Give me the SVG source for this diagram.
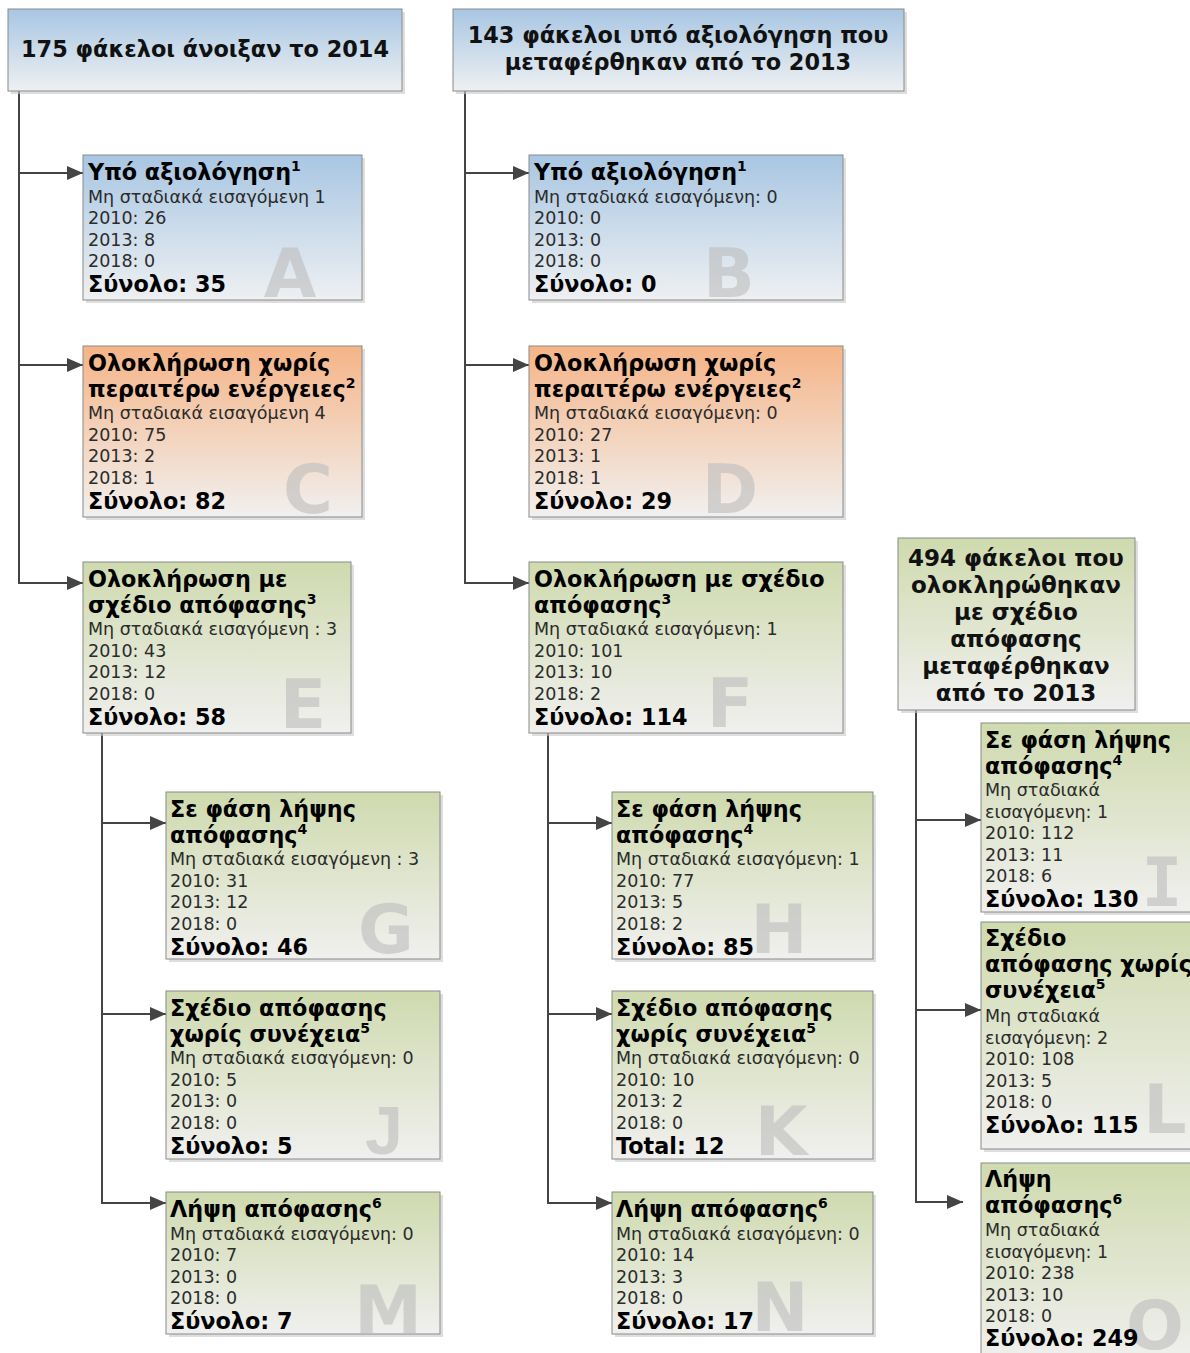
<svg xmlns="http://www.w3.org/2000/svg" width="1190" height="1353" viewBox="0 0 1190 1353">
<style>
.bx{stroke:#8a8a8a;stroke-width:1}
.sh{fill:#c8c8c8;opacity:.6}
.t{font-family:"DejaVu Sans",Verdana,sans-serif;font-weight:bold;font-size:22.3px;fill:#000}
.h{font-family:"DejaVu Sans",Verdana,sans-serif;font-weight:bold;font-size:22.4px;fill:#111;text-anchor:middle}
.h3{font-size:23px}
.b{font-family:"DejaVu Sans",Verdana,sans-serif;font-size:17.5px;fill:#2b2b2b}
.w{font-family:"DejaVu Sans",Verdana,sans-serif;font-weight:bold;font-size:68px;fill:#bdbdbd;opacity:.6;text-anchor:middle}
.wm{font-family:"DejaVu Sans Mono",monospace}
.wl{font-family:"Liberation Sans",Arial,sans-serif}
.sup{font-size:14px}
.cn{fill:none;stroke:#444;stroke-width:2}
</style>
<defs>
<linearGradient id="gB" x1="0" y1="0" x2="0" y2="1"><stop offset="0" stop-color="#a8c6e3"/><stop offset="1" stop-color="#eef0f2"/></linearGradient>
<linearGradient id="gO" x1="0" y1="0" x2="0" y2="1"><stop offset="0" stop-color="#f5b487"/><stop offset="1" stop-color="#f1f0ef"/></linearGradient>
<linearGradient id="gG" x1="0" y1="0" x2="0" y2="1"><stop offset="0" stop-color="#cfdaae"/><stop offset="1" stop-color="#f0f0ef"/></linearGradient>
<marker id="ar" markerUnits="userSpaceOnUse" markerWidth="16" markerHeight="14" refX="16" refY="7" orient="auto"><path d="M0,0 L16,7 L0,14 z" fill="#444"/></marker>
</defs>

<g id="connectors">
<path class="cn" d="M19,91 V583 H83" marker-end="url(#ar)"/>
<path class="cn" d="M19,173 H83" marker-end="url(#ar)"/>
<path class="cn" d="M19,365 H83" marker-end="url(#ar)"/>
<path class="cn" d="M465,91 V583 H529" marker-end="url(#ar)"/>
<path class="cn" d="M465,173 H529" marker-end="url(#ar)"/>
<path class="cn" d="M465,365 H529" marker-end="url(#ar)"/>
<path class="cn" d="M102,733 V1203 H166" marker-end="url(#ar)"/>
<path class="cn" d="M102,823 H166" marker-end="url(#ar)"/>
<path class="cn" d="M102,1014 H166" marker-end="url(#ar)"/>
<path class="cn" d="M548,733 V1203 H612" marker-end="url(#ar)"/>
<path class="cn" d="M548,823 H612" marker-end="url(#ar)"/>
<path class="cn" d="M548,1014 H612" marker-end="url(#ar)"/>
<path class="cn" d="M916,710 V1202 H963" marker-end="url(#ar)"/>
<path class="cn" d="M916,820 H981" marker-end="url(#ar)"/>
<path class="cn" d="M916,1010 H981" marker-end="url(#ar)"/>
</g>

<g id="header1">
<rect class="sh" x="11" y="12" width="394" height="82"/>
<rect class="bx" x="8" y="9" width="394" height="82" fill="url(#gB)"/>
<text class="h" x="205" y="57">175 φάκελοι άνοιξαν το 2014</text>
</g>

<g id="header2">
<rect class="sh" x="456" y="12" width="451" height="82"/>
<rect class="bx" x="453" y="9" width="451" height="82" fill="url(#gB)"/>
<text class="h" x="678" y="43">143 φάκελοι υπό αξιολόγηση που</text>
<text class="h" x="678" y="70">μεταφέρθηκαν από το 2013</text>
</g>

<g id="header3">
<rect class="sh" x="901" y="541" width="237" height="172"/>
<rect class="bx" x="898" y="538" width="237" height="172" fill="url(#gG)"/>
<text class="h h3" x="1016" y="566">494 φάκελοι που</text>
<text class="h h3" x="1016" y="593">ολοκληρώθηκαν</text>
<text class="h h3" x="1016" y="620">με σχέδιο</text>
<text class="h h3" x="1016" y="647">απόφασης</text>
<text class="h h3" x="1016" y="674">μεταφέρθηκαν</text>
<text class="h h3" x="1016" y="701">από το 2013</text>
</g>

<g id="nodeA">
<rect class="sh" x="86" y="158" width="279" height="145"/>
<rect class="bx" x="83" y="155" width="279" height="145" fill="url(#gB)"/>
<text class="w" x="290" y="297">A</text>
<text class="t" x="88" y="180">Υπό αξιολόγηση<tspan class="sup" dy="-9">1</tspan></text>
<text class="b" x="88" y="202.5">Μη σταδιακά εισαγόμενη 1</text>
<text class="b" x="88" y="224">2010: 26</text>
<text class="b" x="88" y="245.5">2013: 8</text>
<text class="b" x="88" y="267">2018: 0</text>
<text class="t" x="88" y="292">Σύνολο: 35</text>
</g>

<g id="nodeB">
<rect class="sh" x="532" y="158" width="314" height="145"/>
<rect class="bx" x="529" y="155" width="314" height="145" fill="url(#gB)"/>
<text class="w" x="729" y="297">B</text>
<text class="t" x="534" y="180">Υπό αξιολόγηση<tspan class="sup" dy="-9">1</tspan></text>
<text class="b" x="534" y="202.5">Μη σταδιακά εισαγόμενη: 0</text>
<text class="b" x="534" y="224">2010: 0</text>
<text class="b" x="534" y="245.5">2013: 0</text>
<text class="b" x="534" y="267">2018: 0</text>
<text class="t" x="534" y="292">Σύνολο: 0</text>
</g>

<g id="nodeC">
<rect class="sh" x="86" y="349" width="279" height="171"/>
<rect class="bx" x="83" y="346" width="279" height="171" fill="url(#gO)"/>
<text class="w" x="308" y="513">C</text>
<text class="t" x="88" y="371">Ολοκλήρωση χωρίς</text>
<text class="t" x="88" y="396.5">περαιτέρω ενέργειες<tspan class="sup" dy="-9">2</tspan></text>
<text class="b" x="88" y="419">Μη σταδιακά εισαγόμενη 4</text>
<text class="b" x="88" y="440.5">2010: 75</text>
<text class="b" x="88" y="462">2013: 2</text>
<text class="b" x="88" y="483.5">2018: 1</text>
<text class="t" x="88" y="508.5">Σύνολο: 82</text>
</g>

<g id="nodeD">
<rect class="sh" x="532" y="349" width="314" height="171"/>
<rect class="bx" x="529" y="346" width="314" height="171" fill="url(#gO)"/>
<text class="w" x="730" y="513">D</text>
<text class="t" x="534" y="371">Ολοκλήρωση χωρίς</text>
<text class="t" x="534" y="396.5">περαιτέρω ενέργειες<tspan class="sup" dy="-9">2</tspan></text>
<text class="b" x="534" y="419">Μη σταδιακά εισαγόμενη: 0</text>
<text class="b" x="534" y="440.5">2010: 27</text>
<text class="b" x="534" y="462">2013: 1</text>
<text class="b" x="534" y="483.5">2018: 1</text>
<text class="t" x="534" y="508.5">Σύνολο: 29</text>
</g>

<g id="nodeE">
<rect class="sh" x="86" y="565" width="268" height="171"/>
<rect class="bx" x="83" y="562" width="268" height="171" fill="url(#gG)"/>
<text class="w" x="303" y="728">E</text>
<text class="t" x="88" y="587">Ολοκλήρωση με</text>
<text class="t" x="88" y="612.5">σχέδιο απόφασης<tspan class="sup" dy="-9">3</tspan></text>
<text class="b" x="88" y="635">Μη σταδιακά εισαγόμενη : 3</text>
<text class="b" x="88" y="656.5">2010: 43</text>
<text class="b" x="88" y="678">2013: 12</text>
<text class="b" x="88" y="699.5">2018: 0</text>
<text class="t" x="88" y="724.5">Σύνολο: 58</text>
</g>

<g id="nodeF">
<rect class="sh" x="532" y="565" width="314" height="171"/>
<rect class="bx" x="529" y="562" width="314" height="171" fill="url(#gG)"/>
<text class="w" x="730" y="727">F</text>
<text class="t" x="534" y="587">Ολοκλήρωση με σχέδιο</text>
<text class="t" x="534" y="612.5">απόφασης<tspan class="sup" dy="-9">3</tspan></text>
<text class="b" x="534" y="635">Μη σταδιακά εισαγόμενη: 1</text>
<text class="b" x="534" y="656.5">2010: 101</text>
<text class="b" x="534" y="678">2013: 10</text>
<text class="b" x="534" y="699.5">2018: 2</text>
<text class="t" x="534" y="724.5">Σύνολο: 114</text>
</g>

<g id="nodeG">
<rect class="sh" x="169" y="795" width="274" height="167"/>
<rect class="bx" x="166" y="792" width="274" height="167" fill="url(#gG)"/>
<text class="w" x="386" y="953">G</text>
<text class="t" x="170" y="817">Σε φάση λήψης</text>
<text class="t" x="170" y="842.5">απόφασης<tspan class="sup" dy="-9">4</tspan></text>
<text class="b" x="170" y="865">Μη σταδιακά εισαγόμενη : 3</text>
<text class="b" x="170" y="886.5">2010: 31</text>
<text class="b" x="170" y="908">2013: 12</text>
<text class="b" x="170" y="929.5">2018: 0</text>
<text class="t" x="170" y="954.5">Σύνολο: 46</text>
</g>

<g id="nodeH">
<rect class="sh" x="615" y="795" width="261" height="167"/>
<rect class="bx" x="612" y="792" width="261" height="167" fill="url(#gG)"/>
<text class="w" x="779" y="953">H</text>
<text class="t" x="616" y="817">Σε φάση λήψης</text>
<text class="t" x="616" y="842.5">απόφασης<tspan class="sup" dy="-9">4</tspan></text>
<text class="b" x="616" y="865">Μη σταδιακά εισαγόμενη: 1</text>
<text class="b" x="616" y="886.5">2010: 77</text>
<text class="b" x="616" y="908">2013: 5</text>
<text class="b" x="616" y="929.5">2018: 2</text>
<text class="t" x="616" y="954.5">Σύνολο: 85</text>
</g>

<g id="nodeI">
<rect class="sh" x="984" y="726" width="220" height="189"/>
<rect class="bx" x="981" y="723" width="220" height="189" fill="url(#gG)"/>
<text class="w wm" x="1162" y="906">I</text>
<text class="t" x="985" y="748">Σε φάση λήψης</text>
<text class="t" x="985" y="773.5">απόφασης<tspan class="sup" dy="-9">4</tspan></text>
<text class="b" x="985" y="796">Μη σταδιακά</text>
<text class="b" x="985" y="817.5">εισαγόμενη: 1</text>
<text class="b" x="985" y="839">2010: 112</text>
<text class="b" x="985" y="860.5">2013: 11</text>
<text class="b" x="985" y="882">2018: 6</text>
<text class="t" x="985" y="907">Σύνολο: 130</text>
</g>

<g id="nodeJ">
<rect class="sh" x="169" y="994" width="274" height="168"/>
<rect class="bx" x="166" y="991" width="274" height="168" fill="url(#gG)"/>
<text class="w wl" x="384" y="1154">J</text>
<text class="t" x="170" y="1016">Σχέδιο απόφασης</text>
<text class="t" x="170" y="1041.5">χωρίς συνέχεια<tspan class="sup" dy="-9">5</tspan></text>
<text class="b" x="170" y="1064">Μη σταδιακά εισαγόμενη: 0</text>
<text class="b" x="170" y="1085.5">2010: 5</text>
<text class="b" x="170" y="1107">2013: 0</text>
<text class="b" x="170" y="1128.5">2018: 0</text>
<text class="t" x="170" y="1153.5">Σύνολο: 5</text>
</g>

<g id="nodeK">
<rect class="sh" x="615" y="994" width="261" height="168"/>
<rect class="bx" x="612" y="991" width="261" height="168" fill="url(#gG)"/>
<text class="w" x="781" y="1155">K</text>
<text class="t" x="616" y="1016">Σχέδιο απόφασης</text>
<text class="t" x="616" y="1041.5">χωρίς συνέχεια<tspan class="sup" dy="-9">5</tspan></text>
<text class="b" x="616" y="1064">Μη σταδιακά εισαγόμενη: 0</text>
<text class="b" x="616" y="1085.5">2010: 10</text>
<text class="b" x="616" y="1107">2013: 2</text>
<text class="b" x="616" y="1128.5">2018: 0</text>
<text class="t" x="616" y="1153.5">Total: 12</text>
</g>

<g id="nodeL">
<rect class="sh" x="984" y="925" width="220" height="227"/>
<rect class="bx" x="981" y="922" width="220" height="227" fill="url(#gG)"/>
<text class="w" x="1165" y="1133">L</text>
<text class="t" x="985" y="946">Σχέδιο</text>
<text class="t" x="985" y="972">απόφασης χωρίς</text>
<text class="t" x="985" y="998">συνέχεια<tspan class="sup" dy="-9">5</tspan></text>
<text class="b" x="985" y="1022">Μη σταδιακά</text>
<text class="b" x="985" y="1043.5">εισαγόμενη: 2</text>
<text class="b" x="985" y="1065">2010: 108</text>
<text class="b" x="985" y="1086.5">2013: 5</text>
<text class="b" x="985" y="1108">2018: 0</text>
<text class="t" x="985" y="1132.5">Σύνολο: 115</text>
</g>

<g id="nodeM">
<rect class="sh" x="169" y="1195" width="274" height="142"/>
<rect class="bx" x="166" y="1192" width="274" height="142" fill="url(#gG)"/>
<text class="w" x="388" y="1334">M</text>
<text class="t" x="170" y="1217">Λήψη απόφασης<tspan class="sup" dy="-9">6</tspan></text>
<text class="b" x="170" y="1239.5">Μη σταδιακά εισαγόμενη: 0</text>
<text class="b" x="170" y="1261">2010: 7</text>
<text class="b" x="170" y="1282.5">2013: 0</text>
<text class="b" x="170" y="1304">2018: 0</text>
<text class="t" x="170" y="1329">Σύνολο: 7</text>
</g>

<g id="nodeN">
<rect class="sh" x="615" y="1195" width="261" height="142"/>
<rect class="bx" x="612" y="1192" width="261" height="142" fill="url(#gG)"/>
<text class="w" x="780" y="1331">N</text>
<text class="t" x="616" y="1217">Λήψη απόφασης<tspan class="sup" dy="-9">6</tspan></text>
<text class="b" x="616" y="1239.5">Μη σταδιακά εισαγόμενη: 0</text>
<text class="b" x="616" y="1261">2010: 14</text>
<text class="b" x="616" y="1282.5">2013: 3</text>
<text class="b" x="616" y="1304">2018: 0</text>
<text class="t" x="616" y="1329">Σύνολο: 17</text>
</g>

<g id="nodeO">
<rect class="sh" x="984" y="1166" width="220" height="200"/>
<rect class="bx" x="981" y="1163" width="220" height="200" fill="url(#gG)"/>
<text class="w" x="1155" y="1349">O</text>
<text class="t" x="985" y="1187">Λήψη</text>
<text class="t" x="985" y="1212.5">απόφασης<tspan class="sup" dy="-9">6</tspan></text>
<text class="b" x="985" y="1236">Μη σταδιακά</text>
<text class="b" x="985" y="1257.5">εισαγόμενη: 1</text>
<text class="b" x="985" y="1279">2010: 238</text>
<text class="b" x="985" y="1300.5">2013: 10</text>
<text class="b" x="985" y="1322">2018: 0</text>
<text class="t" x="985" y="1346">Σύνολο: 249</text>
</g>
</svg>
